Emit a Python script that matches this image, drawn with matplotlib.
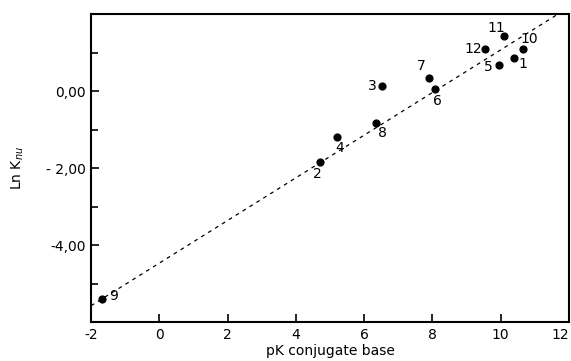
import matplotlib
matplotlib.use("Agg")
import matplotlib.pyplot as plt
import numpy as np

# data
labels = ["1", "2", "3", "4", "5", "6", "7", "8", "9", "10", "11", "12"]
pk = [10.38, 4.71, 6.52, 5.20, 9.94, 8.08, 7.89, 6.34, -1.69, 10.66, 10.09, 9.53]
lnk = [0.86, -1.84, 0.14, -1.19, 0.69, 0.05, 0.33, -0.83, -5.41, 1.09, 1.42, 1.08]
fit_slope = 0.554
fit_intercept = -4.47
fit_range = [-2.0, 11.7]
xticks = [-2, 0, 2, 4, 6, 8, 10, 12]
xtick_labels = ["-2", "0", "2", "4", "6", "8", "10", "12"]
yticks_major = [-4, -2, 0]
ytick_labels = ["-4,00", "- 2,00", "0,00"]
yticks_minor = [-6, -5, -3, -1, 1, 2]

# label offsets in pixels (dx, dy), display y up
offsets = {
    "1": (9, -6), "2": (-3, -12), "3": (-10, 0), "4": (3, -11),
    "5": (-10, -2), "6": (2, -12), "7": (-7, 12), "8": (7, -10),
    "9": (12, 3), "10": (6, 10), "11": (-7, 8), "12": (-11, 0),
}

plt.rcParams['font.family'] = ['DejaVu Sans']
fig = plt.figure(figsize=(5.71, 3.61), dpi=100)
ax = fig.add_axes([0.1594, 0.108, 0.8371, 0.853])

fx = np.array(fit_range)
ax.plot(fx, fit_slope * fx + fit_intercept, color="black", lw=0.9,
        linestyle=(0, (3.0, 3.5)))
ax.scatter(pk, lnk, s=24, color="black", zorder=3)
for lab, x, y in zip(labels, pk, lnk):
    dx, dy = offsets[lab]
    ax.annotate(lab, (x, y), xytext=(dx * 0.72, dy * 0.72), textcoords="offset points",
                ha="center", va="center", fontsize=10)

ax.set_xlim(-2, 12)
ax.set_ylim(-6, 2)
ax.set_xticks(xticks)
ax.set_xticklabels(xtick_labels)
ax.set_yticks(yticks_major)
ax.set_yticklabels(ytick_labels)
ax.set_yticks(yticks_minor, minor=True)
ax.tick_params(axis="both", which="major", direction="in", length=6, width=1.2,
               labelsize=10, pad=4)
ax.tick_params(axis="y", which="minor", direction="in", length=5, width=1.2)
ax.get_xticklabels()[-1].set_horizontalalignment("right")
for s in ax.spines.values():
    s.set_linewidth(1.5)

ax.set_xlabel("pK conjugate base", fontsize=10, labelpad=2)
ax.set_ylabel(r"Ln K$_{nu}$", fontsize=10, labelpad=14)

fig.savefig("out.png", dpi=100)
